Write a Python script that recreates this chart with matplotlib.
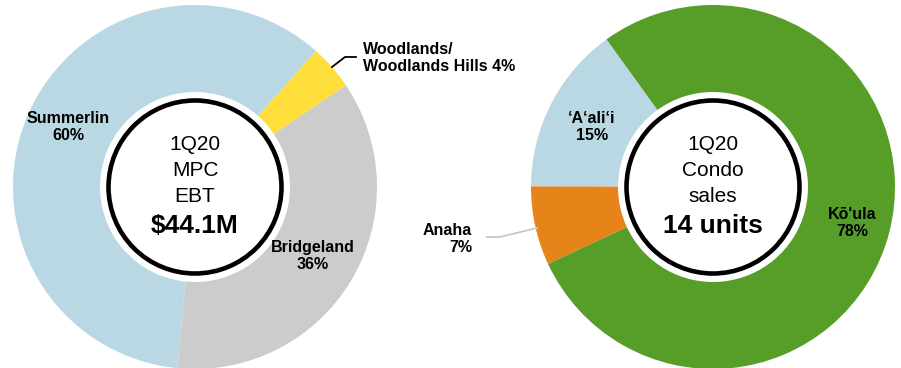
import matplotlib.pyplot as plt
from matplotlib.patches import Circle

plt.rcParams['font.family'] = ['Liberation Sans', 'DejaVu Sans']

W, H = 901, 368

# left donut: MPC EBT
mpc_names = ["Bridgeland", "Woodlands/\nWoodlands Hills", "Summerlin"]
mpc_values = [36, 4, 60]
mpc_colors = ["#CCCCCC", "#FFDE3B", "#B9D8E3"]
mpc_center = ["1Q20", "MPC", "EBT", "$44.1M"]

# right donut: condo sales
condo_names = ["\u2018A\u2018ali\u2018i", "Anaha", "K\u014d'ula"]
condo_values = [15, 7, 78]
condo_colors = ["#B9D8E3", "#E6841A", "#569E28"]
condo_center = ["1Q20", "Condo", "sales", "14 units"]


def py(y):
    # pixel row -> data y
    return H - y


fig = plt.figure(figsize=(W / 100, H / 100), dpi=100)
ax = fig.add_axes([0, 0, 1, 1])
ax.set_xlim(0, W)
ax.set_ylim(0, H)
ax.set_aspect('equal')
ax.axis('off')

R = 182
hole = 95

ax.pie(mpc_values, colors=mpc_colors, startangle=264.4, counterclock=True,
       center=(195, py(187)), radius=R, wedgeprops=dict(width=R - hole, linewidth=0))
ax.pie(condo_values, colors=condo_colors, startangle=125.8, counterclock=True,
       center=(713, py(187)), radius=R, wedgeprops=dict(width=R - hole, linewidth=0))
ax.set_xlim(0, W)
ax.set_ylim(0, H)

for cx, lines in [(195, mpc_center), (713, condo_center)]:
    ax.add_patch(Circle((cx, py(187)), 86.5, facecolor='white', edgecolor='black', lw=3.3, zorder=5))
    for i, (t, yy) in enumerate(zip(lines, [145, 170, 196, 226])):
        bold = i == 3
        ax.text(cx, py(yy), t, ha='center', va='center', zorder=6,
                fontsize=19 if bold else 15, fontweight='bold' if bold else 'normal')

lab = dict(fontsize=11.5, fontweight='bold', linespacing=1.15)

# MPC labels
ax.text(313, py(256), f"{mpc_names[0]}\n{mpc_values[0]}%", ha='center', va='center', **lab)
ax.text(363, py(58), f"{mpc_names[1]} {mpc_values[1]}%", ha='left', va='center', **lab)
ax.text(68, py(127), f"{mpc_names[2]}\n{mpc_values[2]}%", ha='center', va='center', **lab)
ax.plot([332, 345, 356], [py(67), py(57), py(57)], color='black', lw=1.3)

# condo labels
ax.text(592, py(127), f"{condo_names[0]}\n{condo_values[0]}%", ha='center', va='center', **lab)
ax.text(472, py(239), f"{condo_names[1]}\n{condo_values[1]}%", ha='right', va='center',
        multialignment='right', **lab)
ax.text(852, py(223), f"{condo_names[2]}\n{condo_values[2]}%", ha='center', va='center', **lab)
ax.plot([487, 500, 537], [py(237), py(237), py(228)], color='#C8C8C8', lw=1.3)

fig.savefig("out.png", dpi=100)
